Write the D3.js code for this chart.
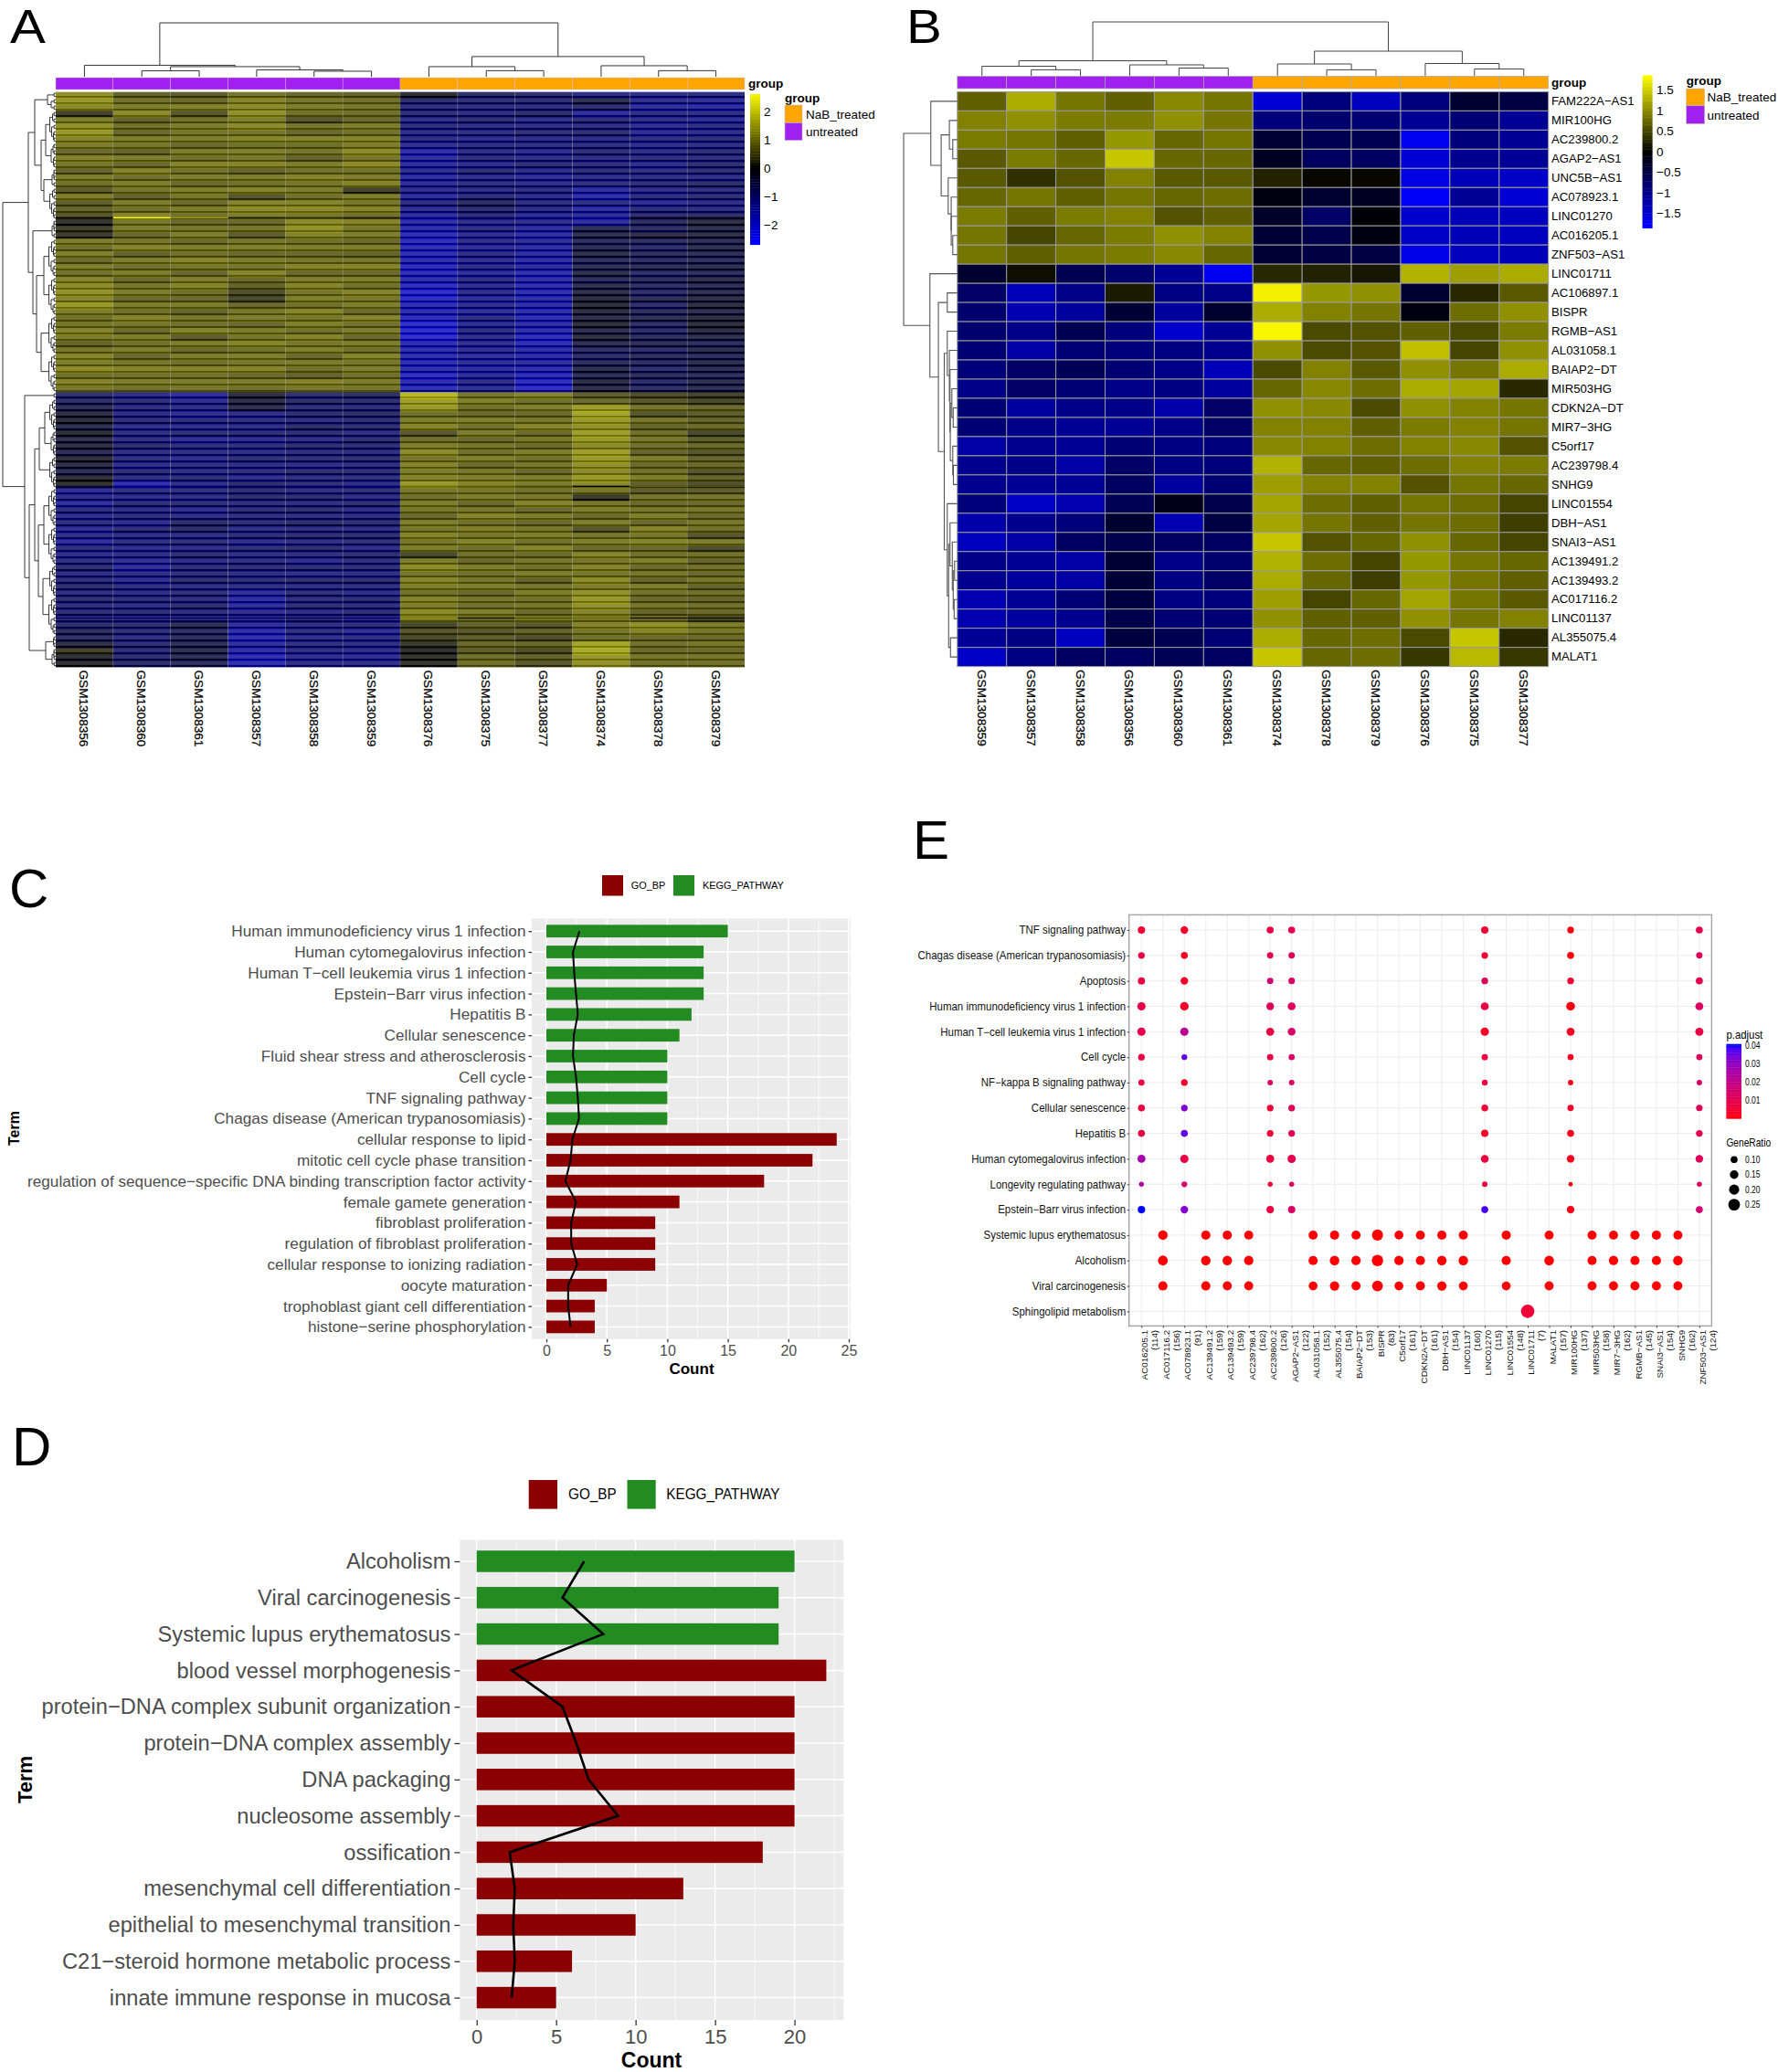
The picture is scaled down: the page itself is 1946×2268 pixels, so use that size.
<!DOCTYPE html>
<html><head><meta charset="utf-8">
<script src="https://cdn.jsdelivr.net/npm/d3@7"></script>
<style>html,body{margin:0;padding:0;background:#fff}svg{display:block;font-family:"Liberation Sans",Arial,sans-serif}</style>
</head><body><svg id="c" width="1946" height="2268"></svg>
<script>
// ---------- data ----------
const samplesA=["GSM1308356","GSM1308360","GSM1308361","GSM1308357","GSM1308358","GSM1308359","GSM1308376","GSM1308375","GSM1308377","GSM1308374","GSM1308378","GSM1308379"];
const groupsA=["untreated","untreated","untreated","untreated","untreated","untreated","NaB_treated","NaB_treated","NaB_treated","NaB_treated","NaB_treated","NaB_treated"];
const heatA=[
[1.5,0.8,0.7,1.1,0.9,0.8,-0.2,-0.9,-1.0,-1.3,-1.4,-1.3],
[1.6,1.0,0.9,1.3,1.1,1.0,-1.0,-1.1,-1.0,-0.5,-1.4,-1.5],
[1.4,1.2,1.3,1.4,1.2,1.1,-1.2,-1.2,-1.2,-1.0,-1.6,-1.7],
[0.3,1.4,0.6,1.5,1.0,1.0,-1.1,-1.2,-0.9,-1.6,-1.3,-1.3],
[1.2,0.8,1.0,1.2,0.6,0.9,-1.3,-1.1,-1.3,-1.1,-1.4,-1.5],
[1.5,1.0,1.2,1.4,1.1,1.2,-1.2,-1.3,-1.2,-1.2,-1.5,-1.3],
[1.6,0.9,1.1,1.1,0.9,1.0,-1.4,-1.2,-1.1,-1.0,-1.5,-1.4],
[1.3,1.2,1.2,1.3,1.3,1.3,-1.3,-1.4,-1.3,-1.3,-1.3,-1.2],
[1.2,1.1,0.9,1.0,1.0,1.2,-1.5,-1.2,-1.2,-1.2,-1.4,-1.3],
[0.9,0.8,1.2,1.2,1.1,1.4,-1.8,-1.3,-1.4,-1.1,-1.3,-1.1],
[1.3,1.2,1.0,1.1,0.8,1.1,-1.7,-1.2,-1.3,-1.3,-1.2,-1.2],
[1.1,0.9,1.3,1.3,1.2,1.4,-1.6,-1.4,-1.1,-1.2,-1.4,-1.0],
[0.8,1.3,1.0,0.8,1.0,1.0,-1.5,-1.1,-1.4,-1.1,-1.2,-1.1],
[1.2,1.0,1.2,1.2,1.3,1.2,-1.7,-1.4,-1.5,-1.4,-1.3,-1.3],
[1.0,1.2,0.9,1.0,1.1,1.3,-1.5,-1.2,-1.3,-1.2,-1.1,-0.9],
[0.7,1.1,1.2,1.3,1.2,0.3,-1.4,-1.3,-1.2,-1.7,-1.4,-1.2],
[1.2,0.8,1.1,0.6,1.0,1.2,-1.6,-1.1,-1.4,-1.8,-1.2,-1.1],
[0.7,1.2,0.9,1.3,1.3,1.1,-1.2,-0.8,-1.2,-1.3,-1.5,-1.3],
[0.8,1.0,1.2,1.4,1.4,1.3,-1.5,-1.0,-1.3,-1.7,-1.1,-1.2],
[0.6,1.3,1.0,1.2,1.1,1.0,-1.6,-1.1,-1.5,-1.5,-1.0,-0.9],
[0.1,1.1,0.9,0.9,1.4,1.3,-1.8,-1.4,-1.4,-1.7,-0.7,-0.3],
[0.3,1.2,1.1,1.1,1.5,1.1,-1.9,-1.3,-1.7,-0.6,-0.9,-0.5],
[0.2,0.9,1.2,0.7,1.3,1.2,-2.0,-1.5,-1.7,-0.5,-0.4,-0.4],
[1.2,1.1,0.9,1.1,1.0,0.9,-2.1,-1.4,-1.6,-0.7,-0.8,-0.6],
[1.0,1.3,1.2,1.2,1.2,1.2,-2.0,-1.6,-1.7,-0.6,-0.9,-0.5],
[1.2,0.8,1.0,0.9,0.9,0.8,-2.0,-1.3,-1.7,-0.5,-0.7,-0.6],
[0.9,1.2,1.3,1.2,1.1,1.1,-1.9,-1.5,-1.8,-0.7,-0.8,-0.7],
[1.2,1.0,1.1,1.1,1.3,1.3,-2.1,-1.4,-1.7,-0.6,-0.6,-0.5],
[1.0,1.2,0.9,1.3,0.9,0.9,-2.0,-1.6,-1.9,-0.5,-0.9,-0.7],
[1.3,0.9,1.2,0.9,1.2,1.2,-1.9,-1.3,-1.8,-0.7,-0.7,-0.4],
[1.4,1.1,1.3,0.8,1.3,1.0,-2.2,-1.5,-1.9,-0.5,-0.8,-0.6],
[1.5,1.2,1.0,0.5,1.1,1.3,-2.3,-1.4,-2.0,-0.4,-0.9,-0.5],
[1.3,0.9,0.9,0.4,1.2,1.1,-2.2,-1.6,-1.8,-0.3,-0.6,-0.4],
[1.6,1.2,1.2,0.9,1.0,1.2,-2.0,-1.4,-1.8,-0.2,-0.9,-0.3],
[1.2,1.0,0.8,1.1,1.3,0.9,-1.9,-1.6,-1.9,-0.3,-0.7,-0.5],
[1.0,1.3,1.1,1.2,1.1,1.3,-2.1,-1.3,-1.9,-0.4,-0.6,-0.3],
[1.1,1.1,1.0,0.9,1.2,1.0,-2.3,-1.5,-1.8,-0.2,-0.8,-0.2],
[1.3,0.9,1.3,1.2,1.0,1.2,-2.4,-1.3,-1.9,-0.5,-0.9,-0.4],
[1.2,1.2,0.7,1.1,1.3,0.9,-2.3,-1.4,-2.1,-0.3,-0.7,-0.5],
[0.8,1.0,1.2,1.3,1.1,1.2,-2.0,-1.5,-2.0,-0.6,-0.6,-0.7],
[1.1,1.2,0.9,1.0,1.2,1.0,-1.9,-1.5,-1.8,-0.8,-0.9,-0.5],
[1.3,0.9,1.2,1.2,0.9,1.3,-1.9,-1.6,-1.8,-0.9,-0.7,-0.7],
[1.2,1.1,1.0,1.1,1.2,1.1,-2.0,-1.6,-1.7,-0.7,-0.8,-0.5],
[1.4,1.3,1.3,1.3,1.0,1.2,-1.9,-1.7,-1.9,-0.5,-0.9,-0.6],
[1.0,1.0,1.0,0.9,0.8,1.0,-2.1,-1.6,-2.0,-0.6,-0.7,-0.7],
[1.3,1.2,1.2,1.2,1.3,1.2,-2.0,-1.4,-2.2,-0.4,-0.9,-0.5],
[1.1,1.0,1.1,1.0,1.1,1.1,-2.0,-1.5,-2.1,-0.5,-0.8,-0.6],
[-1.0,-1.3,-1.6,-0.3,-1.0,-0.8,2.1,1.1,1.3,0.7,0.5,0.3],
[-0.8,-1.1,-1.4,-0.4,-0.9,-1.0,1.7,1.2,1.0,0.9,0.6,0.4],
[-0.6,-1.2,-1.3,-0.5,-1.1,-1.1,1.6,1.0,1.2,1.7,1.1,0.9],
[-0.3,-1.3,-1.5,-1.4,-1.0,-0.9,1.0,0.9,0.9,1.8,0.6,0.7],
[-0.2,-1.1,-1.2,-1.2,-1.2,-1.1,1.2,1.2,1.1,1.6,1.1,0.8],
[-0.5,-1.3,-1.4,-1.3,-0.9,-1.0,1.3,1.0,1.3,1.5,0.8,0.9],
[-0.2,-1.2,-1.1,-1.1,-1.1,-1.2,0.6,1.2,0.9,1.7,1.0,0.4],
[-0.5,-1.3,-1.5,-1.4,-1.3,-1.0,1.0,0.9,1.1,1.6,1.1,0.7],
[-0.3,-1.0,-1.2,-1.2,-1.0,-1.1,1.2,1.1,0.9,1.4,1.0,0.9],
[-0.6,-1.3,-1.3,-1.3,-1.2,-1.2,1.4,1.0,1.2,1.7,0.8,0.6],
[-0.2,-1.2,-1.4,-1.1,-1.1,-1.0,1.1,1.2,1.0,1.6,1.2,0.8],
[-0.4,-1.4,-1.2,-1.3,-1.3,-1.2,1.3,0.9,1.1,1.5,0.9,0.9],
[-0.6,-1.1,-1.3,-1.2,-1.0,-1.1,1.2,1.1,0.9,1.4,1.0,0.6],
[-0.1,-1.3,-1.1,-1.4,-1.2,-1.2,1.3,1.2,1.2,1.6,1.2,0.8],
[0.1,-2.0,-1.4,-0.9,-1.1,-1.3,1.6,1.3,1.2,1.4,0.7,0.5],
[-1.5,-1.2,-1.2,-1.1,-1.3,-1.1,1.1,1.1,1.0,1.1,0.7,0.7],
[-1.3,-1.4,-1.3,-1.0,-1.0,-1.3,1.0,1.2,1.1,0.2,1.1,1.1],
[-1.6,-1.1,-1.1,-1.2,-1.2,-1.0,1.2,0.9,1.3,1.1,0.9,0.9],
[-1.2,-1.3,-1.4,-1.1,-1.0,-1.3,1.1,1.1,0.9,1.2,1.1,1.1],
[-1.4,-1.2,-1.2,-1.2,-1.2,-1.2,0.9,1.3,1.2,0.9,1.2,0.9],
[-1.2,-1.4,-0.9,-1.0,-0.9,-1.0,1.2,1.0,0.9,1.2,0.9,1.1],
[-1.5,-1.1,-0.9,-1.3,-1.2,-1.2,1.1,1.2,1.1,0.6,1.3,1.0],
[-1.3,-1.3,-1.3,-1.1,-1.0,-1.0,1.3,1.1,1.2,1.1,1.1,0.6],
[-1.6,-1.2,-1.1,-1.4,-1.3,-1.1,1.1,1.3,1.0,1.2,1.3,1.2],
[-1.2,-1.4,-1.3,-1.1,-1.0,-1.3,1.2,1.0,1.3,0.9,0.9,0.5],
[-1.4,-1.3,-1.0,-1.3,-1.2,-1.0,0.4,1.0,0.9,1.3,1.0,1.0],
[-1.2,-1.5,-1.3,-1.2,-1.4,-1.2,1.2,0.9,1.1,1.1,1.2,0.8],
[-1.0,-1.6,-1.1,-1.1,-1.1,-1.1,1.4,1.2,1.0,1.3,0.9,1.0],
[-1.3,-1.3,-1.2,-1.3,-1.4,-1.3,1.1,1.0,1.2,1.1,1.1,0.9],
[-1.1,-1.4,-1.0,-1.1,-1.0,-1.0,1.3,1.1,0.8,1.4,0.8,1.1],
[-1.0,-1.2,-1.3,-1.3,-1.3,-1.2,1.2,1.2,1.1,1.2,1.2,0.8],
[-1.2,-1.3,-1.1,-1.6,-1.1,-1.3,1.0,0.9,1.2,1.5,1.0,1.0],
[-1.0,-1.1,-1.2,-1.7,-1.2,-1.1,1.3,1.1,1.0,1.6,0.9,0.8],
[-1.2,-1.3,-1.0,-1.6,-1.1,-1.2,1.2,1.0,1.1,1.5,1.1,1.0],
[-1.1,-1.1,-1.2,-1.4,-1.3,-1.1,1.4,1.2,0.9,1.3,0.8,0.9],
[-1.0,-1.2,-1.0,-1.3,-1.0,-1.3,1.1,1.0,1.1,1.1,1.0,0.5],
[-1.0,-1.0,-0.6,-1.6,-1.3,-1.2,0.4,0.8,0.6,1.3,1.5,1.2],
[-0.7,-1.1,-0.8,-1.8,-1.2,-1.5,0.6,0.6,0.8,1.1,1.3,1.1],
[-0.8,-1.2,-0.7,-1.9,-1.4,-1.3,0.4,0.7,0.5,1.0,0.9,0.9],
[-0.3,-1.0,-0.6,-1.6,-1.2,-1.3,0.2,0.9,0.9,1.8,1.0,1.1],
[0.3,-1.1,-0.5,-1.8,-1.3,-1.4,0.0,0.7,0.5,1.9,0.9,0.9],
[-0.2,-1.0,-0.6,-2.0,-1.5,-1.5,0.1,1.0,0.8,1.6,1.1,1.1],
[-0.1,-0.9,-0.7,-1.9,-1.3,-1.3,0.1,1.0,0.6,1.5,1.0,1.0]];
// thin rows: [row position, values]
const thinRowsA=[
[19.6,[0.0,2.7,1.6,0.3,0.5,0.3,-1.7,-1.3,-1.3,-1.7,-0.2,0.1]],
[61.6,[-0.9,-1.3,-1.2,-1.3,-1.1,-1.2,1.2,1.0,0.8,0.05,1.0,0.8]],
[82.2,[-1.2,-1.2,-1.3,-1.2,-1.2,-1.2,1.5,0.3,0.9,1.2,0.2,0.2]]];
const treeColA=[58.7,[12.5,0,[11,[6.5,0,0],[7.5,0,[6,0,0]]]],[22,[11,0,[6.6,0,0]],[12,0,[6.6,0,0]]]];
const t2=[2.5,0,0], t3=[4,[2,0,0],0], t4=[5,[3,0,0],[2.5,0,0]];
const t5=[6.5,[3.5,0,0],[4.5,0,[2.5,0,0]]], t6=[7.5,[4.5,0,[2.5,0,0]],[5,0,[3,0,0]]];
const treeRowA=[58,
  [30,[23,[9,0,[5,0,0]],[16,[11,t5,t4],[13,t3,t5]]],[25,t3,[21,[13,t6,t6],[16,t6,t6]]]],
  [34,0,[29,[23,[18,[12,t5,t4],t5],[19,[13,t6,t6],[14,t5,t6]]],[11,t2,t3]]]];

const samplesB=["GSM1308359","GSM1308357","GSM1308358","GSM1308356","GSM1308360","GSM1308361","GSM1308374","GSM1308378","GSM1308379","GSM1308376","GSM1308375","GSM1308377"];
const genesB=["FAM222A−AS1","MIR100HG","AC239800.2","AGAP2−AS1","UNC5B−AS1","AC078923.1","LINC01270","AC016205.1","ZNF503−AS1","LINC01711","AC106897.1","BISPR","RGMB−AS1","AL031058.1","BAIAP2−DT","MIR503HG","CDKN2A−DT","MIR7−3HG","C5orf17","AC239798.4","SNHG9","LINC01554","DBH−AS1","SNAI3−AS1","AC139491.2","AC139493.2","AC017116.2","LINC01137","AL355075.4","MALAT1"];
const heatB=[
[.7,1.25,.85,.7,1.0,.85,-1.55,-.9,-1.4,-.9,-.35,-.5],
[.95,1.05,.9,.9,1.05,.85,-.9,-.8,-.85,-1.1,-.85,-1.1],
[.9,.85,.7,1.1,.75,.85,-.4,-.6,-.6,-1.75,-.9,-1.1],
[.65,.9,.75,1.45,.75,.75,-.25,-.7,-.7,-1.55,-1.05,-1.1],
[.65,.35,.6,.95,.65,.65,.25,.05,.05,-1.65,-1.35,-1.45],
[.75,.85,.7,.85,.75,.8,-.1,-.35,-.25,-1.8,-1.1,-1.55],
[.9,.7,.9,.95,.6,.7,-.3,-.75,-.05,-1.5,-1.35,-1.4],
[.85,.5,.75,.9,1.05,.95,-.4,-.55,-.1,-1.45,-1.35,-1.4],
[.85,.7,.85,.9,1.0,.75,-.4,-.5,-.5,-1.7,-1.4,-1.35],
[-.35,.1,-.6,-.8,-1.1,-1.75,.3,.25,.15,1.3,1.15,1.25],
[-.75,-1.35,-1.0,.2,-.95,-1.0,1.75,1.1,1.05,-.35,.3,.65],
[-.8,-1.3,-1.15,-.4,-1.15,-.35,1.25,.95,.85,-.1,.8,1.05],
[-.8,-1.0,-.6,-.9,-1.5,-1.1,1.8,.55,.6,.7,.55,.9],
[-.85,-1.2,-.85,-.9,-.95,-1.05,1.05,.55,.6,1.4,.5,1.05],
[-.9,-.75,-.65,-.85,-1.0,-1.35,.55,.95,.65,1.05,.85,1.25],
[-1.0,-.75,-.85,-1.0,-.95,-1.15,.75,1.0,.8,1.25,1.2,.3],
[-.85,-1.15,-1.0,-1.0,-1.25,-.75,1.05,1.0,.55,1.05,.95,.85],
[-.85,-1.0,-1.1,-1.1,-1.0,-.75,.95,.95,.7,.9,.95,.85],
[-1.2,-1.05,-1.1,-.85,-.95,-.9,1.0,.95,.8,.95,1.0,.6],
[-1.05,-1.0,-1.2,-.75,-.95,-.9,1.3,.75,.7,.8,.95,.9],
[-1.05,-1.1,-1.1,-.7,-1.15,-.85,1.15,.95,.95,.6,.85,.75],
[-.9,-1.45,-1.3,-.65,-.2,-.55,1.2,.8,.7,.85,.8,.5],
[-1.25,-1.05,-.9,-.35,-1.3,-.5,1.2,.85,.7,.85,.8,.45],
[-1.4,-1.2,-.7,-.55,-.7,-.7,1.45,.6,.75,1.05,.75,.5],
[-1.0,-1.1,-1.2,-.4,-1.0,-.8,1.3,.8,.5,1.1,.85,.75],
[-1.05,-1.15,-1.2,-.4,-.95,-.75,1.25,.75,.45,1.1,.85,.7],
[-1.3,-1.1,-.85,-.45,-.95,-.9,1.15,.5,.75,1.2,.85,.65],
[-1.3,-1.15,-1.05,-.55,-.85,-.85,1.05,.7,.7,1.05,.85,.95],
[-1.1,-.95,-1.4,-.45,-.6,-.85,1.25,.75,.8,.55,1.45,.3],
[-1.45,-.95,-.7,-.7,-.65,-.7,1.45,.75,.8,.4,1.35,.4]];
const treeColB=[59,[16.5,[10.5,0,[6.6,0,0]],[12,0,[8.5,0,0]]],[27,[13,0,[6.6,0,0]],[13.5,0,[7.5,0,0]]]];
const treeRowB=[58.7,
 [29,0,[17.7,[8.7,0,[5,0,0]],[10,0,[6.7,0,[6.7,0,[5,0,0]]]]]],
 [30,0,[20.7,[11,0,0],[14.3,
   [11,0,[8.7,0,[8,0,[7.7,[6,0,[4.5,0,0]],[5,0,[4.3,0,0]]]]]],
   [11,0,[9.5,[8,0,[5.5,0,[4.5,[3,0,0],[3.5,0,0]]]],[7.5,0,0]]]]]]];

const termsC=["Human immunodeficiency virus 1 infection","Human cytomegalovirus infection","Human T−cell leukemia virus 1 infection","Epstein−Barr virus infection","Hepatitis B","Cellular senescence","Fluid shear stress and atherosclerosis","Cell cycle","TNF signaling pathway","Chagas disease (American trypanosomiasis)","cellular response to lipid","mitotic cell cycle phase transition","regulation of sequence−specific DNA binding transcription factor activity","female gamete generation","fibroblast proliferation","regulation of fibroblast proliferation","cellular response to ionizing radiation","oocyte maturation","trophoblast giant cell differentiation","histone−serine phosphorylation"];
const countsC=[15,13,13,13,12,11,10,10,10,10,24,22,18,11,9,9,9,5,4,4];
const catsC=["K","K","K","K","K","K","K","K","K","K","G","G","G","G","G","G","G","G","G","G"];
const lineC=[2.73,2.2,2.3,2.45,2.6,2.27,2.2,2.45,2.6,2.7,2.15,2.0,1.57,2.45,2.05,2.05,2.55,1.8,1.8,2.0];

const termsD=["Alcoholism","Viral carcinogenesis","Systemic lupus erythematosus","blood vessel morphogenesis","protein−DNA complex subunit organization","protein−DNA complex assembly","DNA packaging","nucleosome assembly","ossification","mesenchymal cell differentiation","epithelial to mesenchymal transition","C21−steroid hormone metabolic process","innate immune response in mucosa"];
const countsD=[20,19,19,22,20,20,20,20,18,13,10,6,5];
const catsD=["K","K","K","G","G","G","G","G","G","G","G","G","G"];
const lineD=[6.76,5.4,7.96,2.2,5.4,6.27,7.04,8.9,2.08,2.4,2.3,2.4,2.2];

const termsE=["TNF signaling pathway","Chagas disease (American trypanosomiasis)","Apoptosis","Human immunodeficiency virus 1 infection","Human T−cell leukemia virus 1 infection","Cell cycle","NF−kappa B signaling pathway","Cellular senescence","Hepatitis B","Human cytomegalovirus infection","Longevity regulating pathway","Epstein−Barr virus infection","Systemic lupus erythematosus","Alcoholism","Viral carcinogenesis","Sphingolipid metabolism"];
const genesE=["AC016205.1","AC017116.2","AC078923.1","AC139491.2","AC139493.2","AC239798.4","AC239800.2","AGAP2−AS1","AL031058.1","AL355075.4","BAIAP2−DT","BISPR","C5orf17","CDKN2A−DT","DBH−AS1","LINC01137","LINC01270","LINC01554","LINC01711","MALAT1","MIR100HG","MIR503HG","MIR7−3HG","RGMB−AS1","SNAI3−AS1","SNHG9","ZNF503−AS1"];
const sizesE=[114,156,91,159,159,162,126,122,152,154,153,83,161,161,154,160,115,148,7,157,137,158,162,145,154,162,124];
const genesKegg=["AC016205.1","AC078923.1","AC239800.2","AGAP2−AS1","LINC01270","MIR100HG","ZNF503−AS1"];
const ratioKegg=[
[.11,.12,.10,.10,.11,.09,.10],[.09,.10,.08,.08,.09,.10,.08],[.105,.12,.08,.085,.09,.09,.10],
[.14,.15,.12,.13,.13,.155,.13],[.14,.14,.13,.125,.14,.13,.135],[.09,.06,.08,.07,.08,.07,.07],
[.075,.09,.05,.055,.065,.05,.05],[.10,.09,.09,.09,.095,.08,.085],[.10,.10,.09,.09,.11,.10,.09],
[.13,.14,.13,.14,.125,.12,.12],[.035,.06,.035,.04,.055,.02,.04],[.115,.12,.115,.11,.10,.115,.10]];
const padjKegg=[
[.006,.004,.008,.010,.006,.001,.010],[.008,.004,.010,.012,.006,.001,.012],[.008,.004,.016,.014,.012,.006,.010],
[.009,.004,.012,.012,.008,.001,.013],[.009,.022,.008,.014,.004,.003,.008],[.008,.036,.008,.014,.008,.003,.013],
[.008,.004,.013,.013,.008,.002,.014],[.008,.032,.006,.012,.006,.004,.012],[.008,.036,.006,.012,.004,.002,.010],
[.026,.008,.007,.010,.007,.003,.012],[.024,.014,.006,.012,.006,.001,.012],[.040,.032,.008,.014,.038,.002,.016]];
const genesDisease=["AC017116.2","AC139491.2","AC139493.2","AC239798.4","AL031058.1","AL355075.4","BAIAP2−DT","BISPR","C5orf17","CDKN2A−DT","DBH−AS1","LINC01137","LINC01554","MALAT1","MIR503HG","MIR7−3HG","RGMB−AS1","SNAI3−AS1","SNHG9"];
const ratioSLE=[.18,.17,.17,.165,.165,.17,.165,.23,.16,.165,.17,.165,.17,.165,.165,.165,.17,.17,.165];
const ratioAlc=[.19,.18,.18,.175,.17,.18,.175,.24,.175,.17,.18,.18,.17,.185,.165,.175,.17,.17,.18];
const ratioVir=[.17,.17,.165,.165,.16,.175,.165,.22,.16,.165,.175,.16,.16,.165,.165,.165,.165,.165,.165];
const ratioSph=.30, padjSph=.006, padjDisease=.0002;
const legendRatios=[.10,.15,.20,.25];
const legendPadj=[.01,.02,.03,.04];

// ---------- helpers ----------
const svg=d3.select("#c");
const PURPLE="#A020F0",ORANGE="#FFA500",DRED="#8B0000",GREEN="#228B22";
const groupColor={untreated:PURPLE,NaB_treated:ORANGE};
const defs=svg.append("defs");
defs.append("filter").attr("id","soft").attr("filterUnits","userSpaceOnUse").attr("x",50).attr("y",90).attr("width",780).attr("height",650)
  .append("feGaussianBlur").attr("stdDeviation","0.3 0.55").attr("edgeMode","duplicate");
defs.append("clipPath").attr("id","clipA").append("rect").attr("x",61).attr("y",100.4).attr("width",754).attr("height",630);
function txt(g,x,y,s,o={}){const t=g.append("text").attr("x",x).attr("y",y).text(s)
  .attr("font-size",o.size||14).attr("fill",o.fill||"#000");
  if(o.bold)t.attr("font-weight","bold"); if(o.anchor)t.attr("text-anchor",o.anchor);
  if(o.sx)t.attr("transform",`translate(${x},${y}) scale(${o.sx},1)`).attr("x",0).attr("y",0);
  if(o.rot)t.attr("transform",`translate(${x},${y}) rotate(${o.rot})`).attr("x",0).attr("y",0);
  if(o.heavy)t.attr("stroke","#000").attr("stroke-width",o.heavy);
  return t;}
function tree(g,root,leafPos,hScale,orient,fork,color,sw){
  let i=0;const pts=(h,p)=>orient==="h"?[hScale(h),p]:[p,hScale(h)];
  const line=d3.line();
  const path=a=>g.append("path").attr("d",line(a)).attr("fill","none").attr("stroke",color).attr("stroke-width",sw);
  (function visit(n){
    if(!Array.isArray(n)){const p=leafPos(i++);
      if(fork){path([pts(0,p-1.75),pts(1.8,p-1.75),pts(1.8,p+1.75),pts(0,p+1.75)]);}
      return {p,h:fork?1.8:0};}
    const a=visit(n[1]),b=visit(n[2]);
    path([pts(a.h,a.p),pts(n[0],a.p),pts(n[0],b.p),pts(b.h,b.p)]);
    return {p:(a.p+b.p)/2,h:n[0]};
  })(root);
}
function colorbar(g,x,w,yScale,color,step,lo,hi){
  const vals=d3.range(lo,hi,step);
  g.selectAll(null).data(vals).join("rect").attr("x",x).attr("width",w)
   .attr("y",d=>yScale(d+step)).attr("height",d=>Math.abs(yScale(d)-yScale(d+step))+.4).attr("fill",d=>color(d+step/2));
}
function legendGroup(g,x,yTitle,y0,y1,y2,boxW,txtX,size){
  txt(g,x,yTitle,"group",{bold:true,size});
  g.append("rect").attr("x",x).attr("y",y0).attr("width",boxW).attr("height",y1-y0).attr("fill",ORANGE).attr("stroke","#bbb").attr("stroke-width",.6);
  g.append("rect").attr("x",x).attr("y",y1).attr("width",boxW).attr("height",y2-y1).attr("fill",PURPLE).attr("stroke","#bbb").attr("stroke-width",.6);
  txt(g,txtX,(y0+y1)/2+5,"NaB_treated",{size});
  txt(g,txtX,(y1+y2)/2+5,"untreated",{size});
}
function letter(s,x,y,size,sx){txt(svg,x,y,s,{size,sx});}

// ---------- panel A ----------
(function(){
 const g=svg.append("g");
 const x=d3.scaleBand().domain(samplesA).range([61,815]);
 const y=d3.scaleBand().domain(d3.range(heatA.length)).range([100.4,730.4]);
 const col=d3.scaleLinear().domain([-2.69,0,2.69]).range(["#0000ff","#000000","#ffff00"]).clamp(true);
 const clip=g.append("g").attr("clip-path","url(#clipA)");
 const soft=clip.append("g").attr("filter","url(#soft)");
 heatA.forEach((r,i)=>{
   soft.selectAll(null).data(r).join("rect").attr("x",(d,j)=>x(samplesA[j])).attr("y",y(i)).attr("width",x.bandwidth()).attr("height",y.bandwidth()+.3).attr("fill",d=>col(d));
 });
 const yy=d3.scaleLinear().domain([0,heatA.length]).range([100.4,730.4]);
 // washed grey banding produced by the fine row borders
 soft.selectAll(null).data(d3.range(heatA.length)).join("rect").attr("x",61).attr("width",754).attr("y",d=>y(d)+.6).attr("height",y.bandwidth()*.56).attr("fill","#999").attr("opacity",.33);
 // darker seam between rows
 soft.selectAll(null).data(d3.range(heatA.length)).join("rect").attr("x",61).attr("width",754).attr("y",d=>y(d)+y.bandwidth()*.66).attr("height",y.bandwidth()*.26).attr("fill","#000").attr("opacity",.3);
 thinRowsA.forEach(([p,r])=>{
   clip.selectAll(null).data(r).join("rect").attr("x",(d,j)=>x(samplesA[j])).attr("y",yy(p)).attr("width",x.bandwidth()).attr("height",1.5).attr("fill",d=>col(d));
 });
 g.selectAll(null).data(samplesA.slice(1)).join("line").attr("x1",d=>x(d)).attr("x2",d=>x(d)).attr("y1",100.4).attr("y2",730.4).attr("stroke","#999").attr("stroke-width",.8).attr("opacity",.35);
 g.selectAll(null).data(samplesA).join("rect").attr("x",d=>x(d)).attr("y",85).attr("width",x.bandwidth()).attr("height",13).attr("fill",(d,i)=>groupColor[groupsA[i]]).attr("stroke","#d8b8e8").attr("stroke-width",.4);
 tree(g,treeColA,i=>x(samplesA[i])+x.bandwidth()/2,d3.scaleLinear().domain([0,58.7]).range([84,25]),"v",false,"#333",1);
 tree(g,treeRowA,i=>y(i)+y.bandwidth()/2,d3.scaleLinear().domain([0,58]).range([61,3]),"h",true,"#222",.9);
 samplesA.forEach(s=>txt(g,x(s)+x.bandwidth()/2-5,733.5,s,{size:13.6,rot:90,heavy:.25}));
 txt(g,819,96,"group",{bold:true,size:13.5});
 const cb=d3.scaleLinear().domain([-2.69,2.69]).range([267.7,100.4]);
 colorbar(g,821,11,cb,col,.1,-2.69,2.6);
 [[2,"2"],[1,"1"],[0,"0"],[-1,"−1"],[-2,"−2"]].forEach(([v,s])=>txt(g,836,cb(v)+5,s,{size:13.5}));
 legendGroup(g,859,112,115,134.4,153.6,19,882,13.5);
 letter("A",11,47,52,1.12);
})();

// ---------- panel B ----------
(function(){
 const g=svg.append("g");
 const x=d3.scaleBand().domain(samplesB).range([1047.8,1694.7]);
 const y=d3.scaleBand().domain(genesB).range([100.4,729.6]);
 const col=d3.scaleLinear().domain([-1.86,0,1.86]).range(["#0000ff","#000000","#ffff00"]).clamp(true);
 heatB.forEach((r,i)=>{
   g.selectAll(null).data(r).join("rect").attr("x",(d,j)=>x(samplesB[j])).attr("y",y(genesB[i])).attr("width",x.bandwidth()).attr("height",y.bandwidth()).attr("fill",d=>col(d)).attr("stroke","#9a9a9a").attr("stroke-width",1);
 });
 g.selectAll(null).data(samplesB).join("rect").attr("x",d=>x(d)).attr("y",83.4).attr("width",x.bandwidth()).attr("height",13.6).attr("fill",(d,i)=>i<6?PURPLE:ORANGE).attr("stroke","#aaa").attr("stroke-width",.7);
 tree(g,treeColB,i=>x(samplesB[i])+x.bandwidth()/2,d3.scaleLinear().domain([0,59]).range([83,24]),"v",false,"#444",1);
 tree(g,treeRowB,i=>y(genesB[i])+y.bandwidth()/2,d3.scaleLinear().domain([0,58.7]).range([1047.8,989]),"h",false,"#555",1.1);
 genesB.forEach(s=>txt(g,1698,y(s)+y.bandwidth()/2+4.3,s,{size:13.2}));
 samplesB.forEach(s=>txt(g,x(s)+x.bandwidth()/2-5,733,s,{size:13.6,rot:90,heavy:.25}));
 txt(g,1698,95,"group",{bold:true,size:13.5});
 const cb=d3.scaleLinear().domain([-1.86,1.86]).range([249.6,82.3]);
 colorbar(g,1797.6,11,cb,col,.06,-1.86,1.8);
 [[1.5,"1.5"],[1,"1"],[.5,"0.5"],[0,"0"],[-.5,"−0.5"],[-1,"−1"],[-1.5,"−1.5"]].forEach(([v,s])=>txt(g,1813,cb(v)+5,s,{size:13.5}));
 legendGroup(g,1845.7,93,97,115.7,135.5,20,1868.5,13.5);
 letter("B",992,47,52,1.12);
})();

// ---------- bar panels C, D ----------
function barPanel(o){
 const g=svg.append("g");
 const [px0,px1,py0,py1]=o.panel;
 const x=d3.scaleLinear().domain([0,o.xMax]).range([o.x0,o.xEnd]);
 const y=d3.scalePoint().domain(o.terms).range([o.y0,o.yEnd]);
 g.append("rect").attr("x",px0).attr("y",py0).attr("width",px1-px0).attr("height",py1-py0).attr("fill","#ebebeb");
 const minor=d3.range(2.5,(px1-o.x0)/(x(1)-x(0)),5);
 g.selectAll(null).data(minor).join("line").attr("x1",d=>x(d)).attr("x2",d=>x(d)).attr("y1",py0).attr("y2",py1).attr("stroke","#fff").attr("stroke-width",.7);
 g.selectAll(null).data(o.ticks).join("line").attr("x1",d=>x(d)).attr("x2",d=>x(d)).attr("y1",py0).attr("y2",py1).attr("stroke","#fff").attr("stroke-width",1.5);
 g.selectAll(null).data(o.terms).join("line").attr("x1",px0).attr("x2",px1).attr("y1",d=>y(d)).attr("y2",d=>y(d)).attr("stroke","#fff").attr("stroke-width",1.5);
 g.selectAll(null).data(o.terms).join("rect").attr("x",x(0)).attr("y",d=>y(d)-o.barH/2).attr("height",o.barH)
   .attr("width",(d,i)=>x(o.counts[i])-x(0)).attr("fill",(d,i)=>o.cats[i]==="G"?DRED:GREEN);
 g.append("path").datum(o.line).attr("d",d3.line().x(d=>x(d)).y((d,i)=>y(o.terms[i])).curve(d3.curveLinear)).attr("fill","none").attr("stroke","#000").attr("stroke-width",o.lw);
 const ay=g.append("g").attr("transform",`translate(${px0},0)`).call(d3.axisLeft(y).tickSize(o.tick).tickPadding(o.pad));
 ay.select(".domain").remove();
 ay.selectAll("line").attr("stroke","#333").attr("stroke-width",1.3);
 const yt=ay.selectAll("text").attr("font-size",o.fs).attr("fill","#4d4d4d").attr("font-family","Liberation Sans");
 const maxW=d3.max(yt.nodes(),n=>n.getComputedTextLength()),sx=o.labelW/maxW;
 yt.attr("x",-(o.tick+o.pad)/sx).attr("transform",`scale(${sx},1)`);
 const ax=g.append("g").attr("transform",`translate(0,${py1})`).call(d3.axisBottom(x).tickValues(o.ticks).tickFormat(d3.format("d")).tickSize(o.tick).tickPadding(o.pad2));
 ax.select(".domain").remove();
 ax.selectAll("line").attr("stroke","#333").attr("stroke-width",1.3);
 ax.selectAll("text").attr("font-size",o.xfs).attr("fill","#4d4d4d").attr("font-family","Liberation Sans");
 txt(g,o.countPos[0],o.countPos[1],"Count",{bold:true,size:o.titleFs,anchor:"middle"});
 txt(g,o.termPos[0],o.termPos[1],"Term",{bold:true,size:o.termFs,rot:-90}).attr("text-anchor","middle");
 const L=o.legend;
 g.append("rect").attr("x",L.r[0]).attr("y",L.y0).attr("width",L.r[1]-L.r[0]).attr("height",L.y1-L.y0).attr("fill",DRED);
 g.append("rect").attr("x",L.g[0]).attr("y",L.y0).attr("width",L.g[1]-L.g[0]).attr("height",L.y1-L.y0).attr("fill",GREEN);
 txt(g,L.t1,(L.y0+L.y1)/2+L.fs*.35,"GO_BP",{size:L.fs,sx:L.sx});
 txt(g,L.t2,(L.y0+L.y1)/2+L.fs*.35,"KEGG_PATHWAY",{size:L.fs,sx:L.sx});
}
barPanel({terms:termsC,counts:countsC,cats:catsC,line:lineC,panel:[582,931,1005.4,1465.8],xMax:25,x0:598,xEnd:929,y0:1019.2,yEnd:1452.4,barH:13.8,ticks:[0,5,10,15,20,25],lw:2,tick:3.5,pad:3,pad2:3,fs:17,xfs:16,labelW:546,titleFs:17,termFs:16,countPos:[757,1504],termPos:[21,1235],
 legend:{r:[659,682],g:[737,760],y0:958,y1:980.5,t1:690.7,t2:769,fs:11.5,sx:.95}});
barPanel({terms:termsD,counts:countsD,cats:catsD,line:lineD,panel:[503.4,923.4,1685.5,2211],xMax:20,x0:521.7,xEnd:869.6,y0:1709,yEnd:2186.6,barH:23.5,ticks:[0,5,10,15,20],lw:2.6,tick:6,pad:4,pad2:4,fs:24,xfs:22,labelW:448,titleFs:23,termFs:22,countPos:[713,2263],termPos:[35,1948],
 legend:{r:[578.7,610],g:[686.5,717.7],y0:1620,y1:1651.6,t1:622,t2:729.3,fs:15.6,sx:.98}});
letter("C",10,993,60);
letter("D",13,1604,60);

// ---------- panel E ----------
(function(){
 const g=svg.append("g");
 const [px0,px1,py0,py1]=[1235.7,1873.4,1001.4,1451.4];
 const x=d3.scalePoint().domain(genesE).range([1249.3,1859.9]);
 const y=d3.scalePoint().domain(termsE).range([1018,1435.4]);
 const r=d3.scaleLinear().domain([.03,.30]).range([2.6,7.3]);
 const c=d3.scaleLinear().domain([0,.04]).range(["#ff0000","#0000ff"]).interpolate(d3.interpolateLab).clamp(true);
 g.selectAll(null).data(genesE).join("line").attr("x1",d=>x(d)).attr("x2",d=>x(d)).attr("y1",py0).attr("y2",py1).attr("stroke","#ececec").attr("stroke-width",1);
 g.selectAll(null).data(termsE).join("line").attr("x1",px0).attr("x2",px1).attr("y1",d=>y(d)).attr("y2",d=>y(d)).attr("stroke","#ececec").attr("stroke-width",1);
 const dots=[];
 ratioKegg.forEach((row,i)=>row.forEach((v,j)=>dots.push({t:termsE[i],g:genesKegg[j],v,p:padjKegg[i][j]})));
 [ratioSLE,ratioAlc,ratioVir].forEach((row,i)=>row.forEach((v,j)=>dots.push({t:termsE[12+i],g:genesDisease[j],v,p:padjDisease})));
 dots.push({t:termsE[15],g:"LINC01711",v:ratioSph,p:padjSph});
 g.selectAll(null).data(dots).join("circle").attr("cx",d=>x(d.g)).attr("cy",d=>y(d.t)).attr("r",d=>r(d.v)).attr("fill",d=>c(d.p));
 g.append("rect").attr("x",px0).attr("y",py0).attr("width",px1-px0).attr("height",py1-py0).attr("fill","none").attr("stroke","#a8a8a8").attr("stroke-width",1.5);
 const ay=g.append("g").attr("transform",`translate(${px0},0)`).call(d3.axisLeft(y).tickSize(2).tickPadding(1.5));
 ay.select(".domain").remove(); ay.selectAll("line").attr("stroke","#333");
 const yt=ay.selectAll("text").attr("font-size",12).attr("fill","#111").attr("font-family","Liberation Sans");
 const mw=d3.max(yt.nodes(),n=>n.getComputedTextLength()),sx=228/mw;
 yt.attr("x",-3.5/sx).attr("transform",`scale(${sx},1)`);
 const ax=g.append("g").attr("transform",`translate(0,${py1})`).call(d3.axisBottom(x).tickSize(2));
 ax.select(".domain").remove(); ax.selectAll("line").attr("stroke","#333");
 ax.selectAll(".tick").each(function(d,i){
   const t=d3.select(this); t.select("text").remove();
   const mk=(s,dx)=>t.append("text").text(s).attr("font-size",9.8).attr("fill","#111").attr("font-family","Liberation Sans").attr("text-anchor","end").attr("dy",".32em").attr("transform",`translate(${dx},4.5) rotate(-90)`);
   mk(d,3.5); mk("("+sizesE[i]+")",14.5);
 });
 txt(g,1889.4,1137,"p.adjust",{size:12,sx:.95});
 const cb=d3.scaleLinear().domain([0,.0409]).range([1224.3,1142.5]);
 colorbar(g,1889.4,16.6,cb,c,.0008,0,.0408);
 legendPadj.forEach(v=>txt(g,1910,cb(v)+3.5,v.toFixed(2),{size:10,sx:.85}));
 txt(g,1889.4,1255,"GeneRatio",{size:12,sx:.85});
 const ly=d3.scalePoint().domain(legendRatios).range([1269.3,1318.6]);
 g.selectAll(null).data(legendRatios).join("circle").attr("cx",1898).attr("cy",d=>ly(d)).attr("r",d=>r(d)).attr("fill","#000");
 legendRatios.forEach(v=>txt(g,1910,ly(v)+3.5,v.toFixed(2),{size:10,sx:.85}));
 letter("E",999,940,60);
})();
</script></body></html>
